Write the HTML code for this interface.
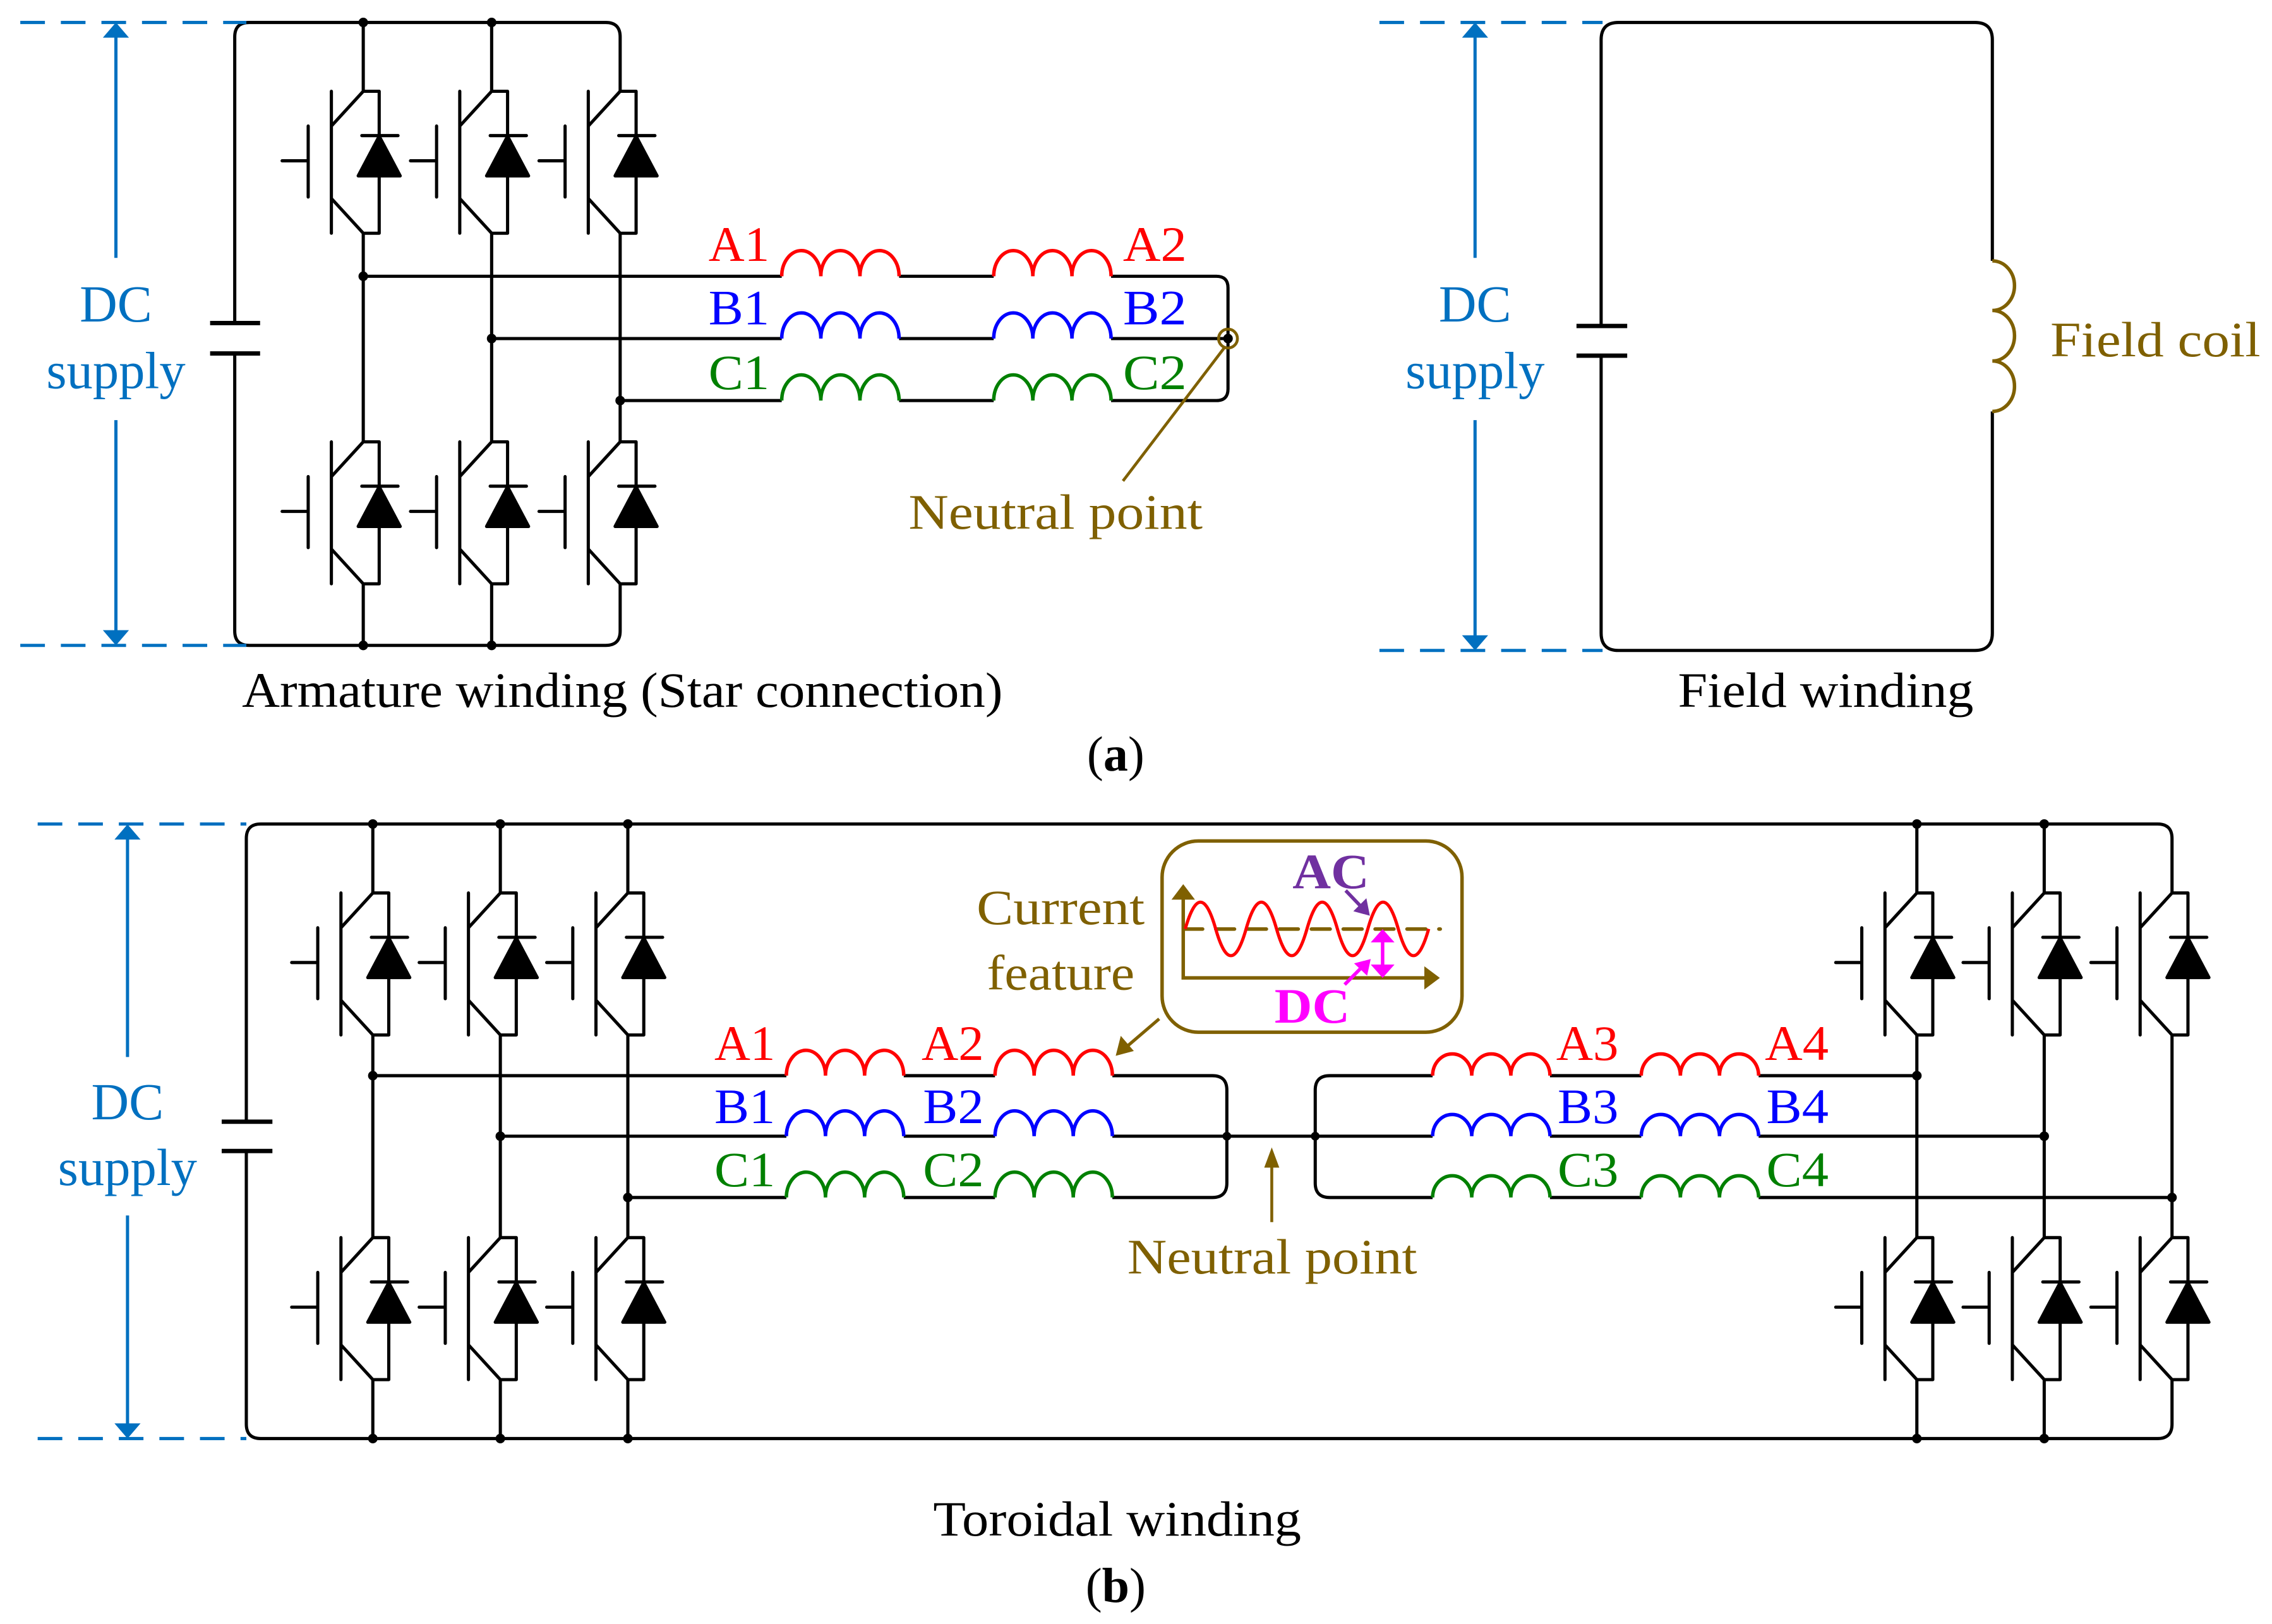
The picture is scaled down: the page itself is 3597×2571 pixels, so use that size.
<!DOCTYPE html>
<html><head><meta charset="utf-8"><style>
html,body{margin:0;padding:0;background:#fff;}
svg{display:block;}
text{font-family:"Liberation Serif",serif;}
</style></head><body>
<svg xmlns="http://www.w3.org/2000/svg" xmlns:xlink="http://www.w3.org/1999/xlink" width="3597" height="2571" viewBox="0 0 1568 1121" preserveAspectRatio="none">
<defs>
<g id="ig" stroke="#000" stroke-width="2.2" fill="none" stroke-linecap="round">
<path d="M0,0 H11 M0,0 L-22,24 M-22,0 V98 M-22,74 L0,98 H11 M11,0 V98 M-1,30.6 H24 M-38,24 V73 M-56,48 H-38"/>
<path d="M11,31 L-3.5,58.4 L25.5,58.4 Z" fill="#000" stroke-linejoin="round"/>
</g>
</defs>
<rect width="1568" height="1121" fill="#fff"/>

<!-- ================= (a) ================= -->
<g stroke="#000" stroke-width="2.2" fill="none">
<path d="M428,63 V25.5 Q428,15.5 418,15.5 H172 Q162,15.5 162,25.5 V223 M162,244 V435.5 Q162,445.5 172,445.5 H418 Q428,445.5 428,435.5 V403"/>
<path d="M145,223 H179.5 M145,244 H179.5" stroke-width="3"/>
<path d="M250.7,15.5 V63 M250.7,161 V305 M250.7,403 V445.5 M339.3,15.5 V63 M339.3,161 V305 M339.3,403 V445.5 M428,161 V305"/>
<path d="M250.7,190.7 H539.5 M620.5,190.7 H685.8 M766.8,190.7 H839.5 Q847.5,190.7 847.5,198.7 V268.5 Q847.5,276.5 839.5,276.5 H766.8 M685.8,276.5 H620.5 M539.5,276.5 H428"/>
<path d="M339.3,233.7 H539.5 M620.5,233.7 H685.8 M766.8,233.7 H847.5"/>
</g>
<use xlink:href="#ig" x="250.7" y="63"/><use xlink:href="#ig" x="339.3" y="63"/><use xlink:href="#ig" x="428" y="63"/>
<use xlink:href="#ig" x="250.7" y="305"/><use xlink:href="#ig" x="339.3" y="305"/><use xlink:href="#ig" x="428" y="305"/>
<g fill="none" stroke-width="2.4">
<path stroke="#FF0000" d="M539.5,190.7 a13.5,17.7 0 0 1 27,0 a13.5,17.7 0 0 1 27,0 a13.5,17.7 0 0 1 27,0 M685.8,190.7 a13.5,17.7 0 0 1 27,0 a13.5,17.7 0 0 1 27,0 a13.5,17.7 0 0 1 27,0"/>
<path stroke="#0000FF" d="M539.5,233.7 a13.5,17.7 0 0 1 27,0 a13.5,17.7 0 0 1 27,0 a13.5,17.7 0 0 1 27,0 M685.8,233.7 a13.5,17.7 0 0 1 27,0 a13.5,17.7 0 0 1 27,0 a13.5,17.7 0 0 1 27,0"/>
<path stroke="#008000" d="M539.5,276.5 a13.5,17.7 0 0 1 27,0 a13.5,17.7 0 0 1 27,0 a13.5,17.7 0 0 1 27,0 M685.8,276.5 a13.5,17.7 0 0 1 27,0 a13.5,17.7 0 0 1 27,0 a13.5,17.7 0 0 1 27,0"/>
</g>
<g fill="#000">
<circle cx="250.7" cy="15.5" r="3.3"/><circle cx="339.3" cy="15.5" r="3.3"/><circle cx="250.7" cy="445.5" r="3.3"/><circle cx="339.3" cy="445.5" r="3.3"/>
<circle cx="250.7" cy="190.7" r="3.3"/><circle cx="339.3" cy="233.7" r="3.3"/><circle cx="428" cy="276.5" r="3.3"/><circle cx="847.5" cy="233.7" r="3.3"/>
</g>
<circle cx="847.5" cy="233.7" r="6.5" fill="none" stroke="#7F6000" stroke-width="2"/>
<path d="M845,240 L775,332" stroke="#7F6000" stroke-width="2"/>
<!-- DC left a -->
<g stroke="#0070C0" stroke-width="2.2" fill="none">
<path d="M14,15.5 H170 M14,445.5 H170" stroke-dasharray="17,11"/>
<path d="M80,24 V178 M80,290 V437"/>
</g>
<path d="M80,15.5 L71,26 H89 Z M80,445.5 L71,435 H89 Z" fill="#0070C0"/>
<!-- right a -->
<g stroke="#000" stroke-width="2.2" fill="none">
<path d="M1105,225 V27.5 Q1105,15.5 1117,15.5 H1363 Q1375,15.5 1375,27.5 V180.1 M1375,284 V437 Q1375,449 1363,449 H1117 Q1105,449 1105,437 V245.5"/>
<path d="M1088,225 H1123 M1088,245.5 H1123" stroke-width="3"/>
</g>
<path d="M1375,180.1 a15.3,17.1 0 0 1 0,34.2 a15.3,17.45 0 0 1 0,34.9 a15.3,17.4 0 0 1 0,34.8" fill="none" stroke="#7F6000" stroke-width="2.4"/>
<g stroke="#0070C0" stroke-width="2.2" fill="none">
<path d="M952,15.5 H1106 M952,449 H1106" stroke-dasharray="17,11"/>
<path d="M1018,24 V178 M1018,290 V440"/>
</g>
<path d="M1018,15.5 L1009,26 H1027 Z M1018,449 L1009,438.5 H1027 Z" fill="#0070C0"/>
<!-- texts a -->
<g font-size="36" fill="#0070C0" text-anchor="middle">
<text x="80" y="222">DC</text><text x="80" y="268">supply</text>
<text x="1018" y="222">DC</text><text x="1018" y="268">supply</text>
</g>
<g font-size="34">
<text x="489" y="180" fill="#FF0000" textLength="42" lengthAdjust="spacingAndGlyphs">A1</text>
<text x="775" y="180" fill="#FF0000" textLength="44" lengthAdjust="spacingAndGlyphs">A2</text>
<text x="489" y="224" fill="#0000FF" textLength="42" lengthAdjust="spacingAndGlyphs">B1</text>
<text x="775" y="224" fill="#0000FF" textLength="44" lengthAdjust="spacingAndGlyphs">B2</text>
<text x="489" y="268.6" fill="#008000" textLength="42" lengthAdjust="spacingAndGlyphs">C1</text>
<text x="775" y="268.6" fill="#008000" textLength="44" lengthAdjust="spacingAndGlyphs">C2</text>
<text x="627" y="365" fill="#7F6000" textLength="203" lengthAdjust="spacingAndGlyphs">Neutral point</text>
<text x="1415" y="246" fill="#7F6000" textLength="145" lengthAdjust="spacingAndGlyphs">Field coil</text>
<text x="167" y="488" fill="#000" textLength="525" lengthAdjust="spacingAndGlyphs">Armature winding (Star connection)</text>
<text x="1158" y="488" fill="#000" textLength="204" lengthAdjust="spacingAndGlyphs">Field winding</text>
<text x="770" y="532" fill="#000" text-anchor="middle">(<tspan font-weight="bold">a</tspan>)</text>
</g>

<!-- ================= (b) ================= -->
<g stroke="#000" stroke-width="2.2" fill="none">
<path d="M1499,616.4 V578.8 Q1499,568.8 1489,568.8 H180 Q170,568.8 170,578.8 V774.3 M170,794.5 V983 Q170,993 180,993 H1489 Q1499,993 1499,983 V952.2"/>
<path d="M153,774.3 H188 M153,794.5 H188" stroke-width="3"/>
<path d="M257.3,568.8 V616.4 M257.3,714.4 V854.3 M257.3,952.3 V993 M345.3,568.8 V616.4 M345.3,714.4 V854.3 M345.3,952.3 V993 M433.3,568.8 V616.4 M433.3,714.4 V854.3 M433.3,952.3 V993 M1322.9,568.8 V616.4 M1322.9,714.4 V854.3 M1322.9,952.3 V993 M1410.8,568.8 V616.4 M1410.8,714.4 V854.3 M1410.8,952.3 V993 M1499,714.4 V854.3"/>
<path d="M257.3,742.5 H542.7 M623.7,742.5 H686.7 M767.7,742.5 H836.7 Q846.7,742.5 846.7,752.5 V816.6 Q846.7,826.6 836.7,826.6 H767.7 M686.7,826.6 H623.7 M542.7,826.6 H433.3"/>
<path d="M345.3,784.3 H542.7 M623.7,784.3 H686.7 M767.7,784.3 H988.7 M1069.7,784.3 H1132.7 M1213.7,784.3 H1410.8"/>
<path d="M1499,826.6 H1213.7 M1132.7,826.6 H1069.7 M988.7,826.6 H917.7 Q907.7,826.6 907.7,816.6 V752.5 Q907.7,742.5 917.7,742.5 H988.7 M1069.7,742.5 H1132.7 M1213.7,742.5 H1322.9"/>
</g>
<use xlink:href="#ig" x="257.3" y="616.4"/><use xlink:href="#ig" x="345.3" y="616.4"/><use xlink:href="#ig" x="433.3" y="616.4"/>
<use xlink:href="#ig" x="257.3" y="854.3"/><use xlink:href="#ig" x="345.3" y="854.3"/><use xlink:href="#ig" x="433.3" y="854.3"/>
<use xlink:href="#ig" x="1322.9" y="616.4"/><use xlink:href="#ig" x="1410.8" y="616.4"/><use xlink:href="#ig" x="1499" y="616.4"/>
<use xlink:href="#ig" x="1322.9" y="854.3"/><use xlink:href="#ig" x="1410.8" y="854.3"/><use xlink:href="#ig" x="1499" y="854.3"/>
<g fill="none" stroke-width="2.4">
<path stroke="#FF0000" d="M542.7,742.5 a13.5,17.5 0 0 1 27,0 a13.5,17.5 0 0 1 27,0 a13.5,17.5 0 0 1 27,0 M686.7,742.5 a13.5,17.5 0 0 1 27,0 a13.5,17.5 0 0 1 27,0 a13.5,17.5 0 0 1 27,0 M988.7,742.5 a13.5,15 0 0 1 27,0 a13.5,15 0 0 1 27,0 a13.5,15 0 0 1 27,0 M1132.7,742.5 a13.5,15 0 0 1 27,0 a13.5,15 0 0 1 27,0 a13.5,15 0 0 1 27,0"/>
<path stroke="#0000FF" d="M542.7,784.3 a13.5,17.5 0 0 1 27,0 a13.5,17.5 0 0 1 27,0 a13.5,17.5 0 0 1 27,0 M686.7,784.3 a13.5,17.5 0 0 1 27,0 a13.5,17.5 0 0 1 27,0 a13.5,17.5 0 0 1 27,0 M988.7,784.3 a13.5,15 0 0 1 27,0 a13.5,15 0 0 1 27,0 a13.5,15 0 0 1 27,0 M1132.7,784.3 a13.5,15 0 0 1 27,0 a13.5,15 0 0 1 27,0 a13.5,15 0 0 1 27,0"/>
<path stroke="#008000" d="M542.7,826.6 a13.5,17.5 0 0 1 27,0 a13.5,17.5 0 0 1 27,0 a13.5,17.5 0 0 1 27,0 M686.7,826.6 a13.5,17.5 0 0 1 27,0 a13.5,17.5 0 0 1 27,0 a13.5,17.5 0 0 1 27,0 M988.7,826.6 a13.5,15 0 0 1 27,0 a13.5,15 0 0 1 27,0 a13.5,15 0 0 1 27,0 M1132.7,826.6 a13.5,15 0 0 1 27,0 a13.5,15 0 0 1 27,0 a13.5,15 0 0 1 27,0"/>
</g>
<g fill="#000">
<circle cx="257.3" cy="568.8" r="3.3"/><circle cx="345.3" cy="568.8" r="3.3"/><circle cx="433.3" cy="568.8" r="3.3"/><circle cx="1322.9" cy="568.8" r="3.3"/><circle cx="1410.8" cy="568.8" r="3.3"/>
<circle cx="257.3" cy="993" r="3.3"/><circle cx="345.3" cy="993" r="3.3"/><circle cx="433.3" cy="993" r="3.3"/><circle cx="1322.9" cy="993" r="3.3"/><circle cx="1410.8" cy="993" r="3.3"/>
<circle cx="257.3" cy="742.5" r="3.3"/><circle cx="345.3" cy="784.3" r="3.3"/><circle cx="433.3" cy="826.6" r="3.3"/>
<circle cx="846.7" cy="784.3" r="3"/><circle cx="907.7" cy="784.3" r="3"/>
<circle cx="1322.9" cy="742.5" r="3.3"/><circle cx="1410.8" cy="784.3" r="3.3"/><circle cx="1499" cy="826.6" r="3.3"/>
</g>
<!-- DC left b -->
<g stroke="#0070C0" stroke-width="2.2" fill="none">
<path d="M26,568.8 H170 M26,993 H170" stroke-dasharray="17,11"/>
<path d="M88,578 V729.6 M88,839 V984"/>
</g>
<path d="M88,569 L79,579.5 H97 Z M88,993 L79,982.5 H97 Z" fill="#0070C0"/>
<!-- neutral arrow b -->
<path d="M877.7,843.6 V800" stroke="#7F6000" stroke-width="2"/>
<path d="M877.7,792 L872.5,806 H882.9 Z" fill="#7F6000"/>
<!-- current feature arrow -->
<path d="M800,703.3 L777,723" stroke="#7F6000" stroke-width="2.2"/>
<path d="M770,728.8 L773.5,715 L782.5,725.5 Z" fill="#7F6000"/>
<!-- inset -->
<rect x="802" y="580.5" width="207" height="132" rx="25" ry="25" fill="none" stroke="#7F6000" stroke-width="2.4"/>
<path d="M816.6,618 V675 H986" fill="none" stroke="#7F6000" stroke-width="2.4"/>
<path d="M816.6,610.3 L808.5,621 H824.7 Z M993.7,675 L983,667 V683 Z" fill="#7F6000"/>
<path d="M817,641.3 H994" stroke="#7F6000" stroke-width="2.4" stroke-dasharray="13,9" stroke-linecap="round"/>
<path d="M818,641.2 c7,-24.6 14,-24.6 21,0 c7,24.6 14,24.6 21,0 c7,-24.6 14,-24.6 21,0 c7,24.6 14,24.6 21,0 c7,-24.6 14,-24.6 21,0 c7,24.6 14,24.6 21,0 c7,-24.6 14,-24.6 21,0 c7,24.6 14,24.6 21,0" fill="none" stroke="#FF0000" stroke-width="2.2"/>
<path d="M928.7,614.7 L940,626.5" stroke="#7030A0" stroke-width="2.4"/>
<path d="M945.4,632.1 L934,629 L943,620 Z" fill="#7030A0"/>
<path d="M954.2,650 V666" stroke="#FF00FF" stroke-width="2.4"/>
<path d="M954.2,641.3 L946,650.5 H962.4 Z M954.2,675 L946,665.8 H962.4 Z" fill="#FF00FF"/>
<path d="M928,679.6 L940,667.5" stroke="#FF00FF" stroke-width="2.4"/>
<path d="M946,662 L934.5,665 L943.5,673.5 Z" fill="#FF00FF"/>
<text x="892" y="613" font-size="34" font-weight="bold" fill="#7030A0" textLength="53" lengthAdjust="spacingAndGlyphs">AC</text>
<text x="879.6" y="706" font-size="34" font-weight="bold" fill="#FF00FF" textLength="52" lengthAdjust="spacingAndGlyphs">DC</text>
<!-- texts b -->
<g font-size="36" fill="#0070C0" text-anchor="middle">
<text x="88" y="772.6">DC</text><text x="88" y="818">supply</text>
</g>
<g font-size="34">
<text x="493" y="731.7" fill="#FF0000" textLength="42" lengthAdjust="spacingAndGlyphs">A1</text>
<text x="636" y="731.7" fill="#FF0000" textLength="43" lengthAdjust="spacingAndGlyphs">A2</text>
<text x="1074" y="731.7" fill="#FF0000" textLength="43" lengthAdjust="spacingAndGlyphs">A3</text>
<text x="1218" y="731.7" fill="#FF0000" textLength="44" lengthAdjust="spacingAndGlyphs">A4</text>
<text x="493" y="775.3" fill="#0000FF" textLength="42" lengthAdjust="spacingAndGlyphs">B1</text>
<text x="637" y="775.3" fill="#0000FF" textLength="42" lengthAdjust="spacingAndGlyphs">B2</text>
<text x="1075" y="775.3" fill="#0000FF" textLength="42" lengthAdjust="spacingAndGlyphs">B3</text>
<text x="1219" y="775.3" fill="#0000FF" textLength="43" lengthAdjust="spacingAndGlyphs">B4</text>
<text x="493" y="818.9" fill="#008000" textLength="42" lengthAdjust="spacingAndGlyphs">C1</text>
<text x="637" y="818.9" fill="#008000" textLength="42" lengthAdjust="spacingAndGlyphs">C2</text>
<text x="1075" y="818.9" fill="#008000" textLength="42" lengthAdjust="spacingAndGlyphs">C3</text>
<text x="1219" y="818.9" fill="#008000" textLength="43" lengthAdjust="spacingAndGlyphs">C4</text>
<text x="674" y="638" fill="#7F6000" textLength="116" lengthAdjust="spacingAndGlyphs">Current</text>
<text x="681" y="683" fill="#7F6000" textLength="102" lengthAdjust="spacingAndGlyphs">feature</text>
<text x="778" y="879" fill="#7F6000" textLength="200" lengthAdjust="spacingAndGlyphs">Neutral point</text>
<text x="644" y="1060" fill="#000" textLength="254" lengthAdjust="spacingAndGlyphs">Toroidal winding</text>
<text x="770" y="1106" fill="#000" text-anchor="middle">(<tspan font-weight="bold">b</tspan>)</text>
</g>
</svg>
</body></html>
